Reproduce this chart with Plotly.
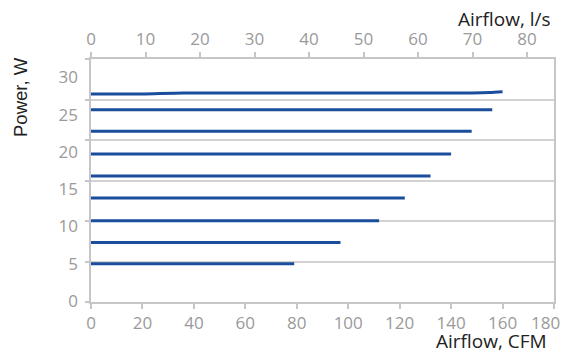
import plotly.graph_objects as go

# Data (airflow in CFM, power in W)
top_cfm = [0, 20, 36, 148, 155, 160]
top_power = [27.77, 27.77, 27.9, 27.9, 27.95, 28.05]
speed_max_cfm = [156, 148, 140, 132, 122, 112, 97, 79]
speed_power = [25.65, 22.75, 19.7, 16.75, 13.8, 10.75, 7.85, 5.0]

cfm_ticks = list(range(0, 181, 20))
ls_ticks = list(range(0, 81, 10))
power_ticks = list(range(0, 31, 5))

CFM_TO_LS = 0.4719474
LINE_COLOR = "#1a4d9c"
AXIS_COLOR = "#c6c6c6"
TICK_FONT = dict(family="Open Sans", size=17, color="#9a9a9a")
TITLE_FONT = dict(family="Open Sans", size=19, color="#222222")

# last bottom label is drawn pulled inward (as in the reference), the rest as tick labels
cfm_ticktext = [str(v) for v in cfm_ticks[:-1]] + [""]

fig = go.Figure()
fig.add_trace(go.Scatter(x=top_cfm, y=top_power, mode="lines",
                         line=dict(color=LINE_COLOR, width=3, shape="spline", smoothing=0.6),
                         showlegend=False, hoverinfo="skip"))
for xmax, p in zip(speed_max_cfm, speed_power):
    fig.add_trace(go.Scatter(x=[0, xmax], y=[p, p], mode="lines",
                             line=dict(color=LINE_COLOR, width=3),
                             showlegend=False, hoverinfo="skip"))

# invisible trace to activate secondary axes
fig.add_trace(go.Scatter(x=[0], y=[0], xaxis="x2", yaxis="y2", mode="markers",
                         marker=dict(opacity=0), showlegend=False, hoverinfo="skip"))

fig.update_layout(
    width=564, height=360,
    margin=dict(l=91, r=9.5, t=58.5, b=57.5, autoexpand=False),
    paper_bgcolor="white", plot_bgcolor="white",
    xaxis=dict(range=[0, 180], tickvals=cfm_ticks, ticktext=cfm_ticktext, ticks="outside",
               ticklen=5, tickcolor=AXIS_COLOR, tickwidth=1.5, showline=True,
               linecolor=AXIS_COLOR, linewidth=1.5, showgrid=False, zeroline=False,
               tickfont=TICK_FONT, ticklabeloverflow="allow", automargin=False),
    xaxis2=dict(range=[0, 180 * CFM_TO_LS], tickvals=ls_ticks, overlaying="x", side="top",
                ticks="outside", ticklen=5, tickcolor=AXIS_COLOR, tickwidth=1.5,
                showline=True, linecolor=AXIS_COLOR, linewidth=1.5, showgrid=False,
                zeroline=False, tickfont=TICK_FONT, ticklabeloverflow="allow",
                automargin=False),
    yaxis=dict(range=[-0.13, 32.45], tickvals=power_ticks, ticks="", showline=False,
               showgrid=False, zeroline=False, tickfont=TICK_FONT, ticklabelstandoff=12,
               automargin=False),
    yaxis2=dict(range=[0, 30], tickvals=power_ticks, overlaying="y", side="left",
                showticklabels=False, ticks="outside", ticklen=4, tickcolor=AXIS_COLOR,
                tickwidth=1.5, showline=True, mirror=True, linecolor=AXIS_COLOR,
                linewidth=1.5, showgrid=True, gridcolor="#d2d2d2", gridwidth=1.5,
                zeroline=False, automargin=False),
    annotations=[
        dict(text=str(cfm_ticks[-1]), xref="x", yref="paper", x=cfm_ticks[-1], y=0.0,
             xanchor="right", yanchor="middle", xshift=8, yshift=-20, showarrow=False,
             font=TICK_FONT),
        dict(text="Airflow, l/s", xref="paper", yref="paper", x=1.0, y=1.0,
             xanchor="right", yanchor="middle", yshift=40, xshift=-1, showarrow=False,
             font=TITLE_FONT),
        dict(text="Airflow, CFM", xref="paper", yref="paper", x=1.0, y=0.0,
             xanchor="right", yanchor="middle", yshift=-39, xshift=-5, showarrow=False,
             font=TITLE_FONT),
        dict(text="Power, W", xref="paper", yref="paper", x=0.0, y=1.0, textangle=-90,
             xanchor="center", yanchor="top", xshift=-71, yshift=4, showarrow=False,
             font=dict(family="Liberation Sans", size=18.5, color="#222222")),
    ],
)

fig.write_html("out.html")
